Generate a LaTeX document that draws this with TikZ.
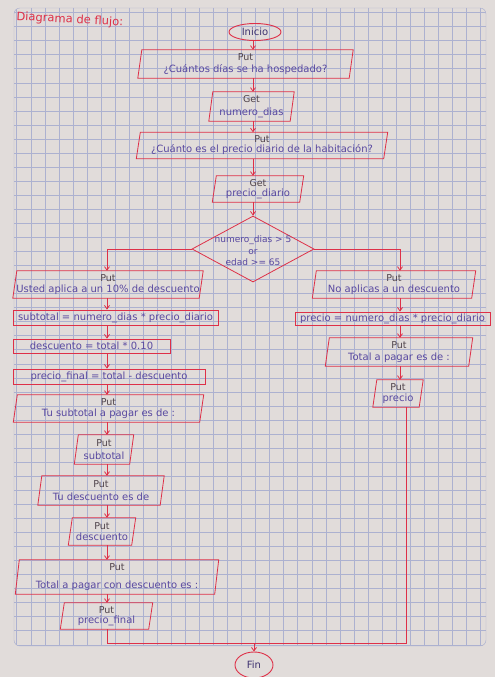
\documentclass[tikz,border=0pt]{standalone}
\usepackage{fontspec}
\setmainfont{DejaVu Sans}
\usetikzlibrary{shapes.geometric,arrows.meta,calc}
\definecolor{paper}{RGB}{225,220,218}
\definecolor{gridc}{RGB}{172,177,208}
\definecolor{inkred}{RGB}{222,48,72}
\definecolor{inkpur}{RGB}{88,72,160}
\definecolor{inkdark}{RGB}{80,68,76}
\newcommand\iob[7]{%
  \node[iobox, minimum width=#4, minimum height=#5] (#1) at (#2,#3) {\textcolor{inkdark}{\fontsize{9.5}{11}\selectfont #6}\\[\dimexpr #5pt-28pt\relax]#7};
  \draw[redline] ([xshift=2pt]#1.north west) -- ([xshift=2pt]#1.north east) -- ([xshift=-2pt]#1.south east) -- ([xshift=-2pt]#1.south west) -- cycle;
}
\begin{document}
\begin{tikzpicture}[x=1pt,y=-1pt,
  redline/.style={draw=inkred, line width=0.8pt},
  arr/.style={draw=inkred, line width=0.8pt, -{Straight Barb[length=3.5pt,width=5pt]}},
  iobox/.style={rectangle, inner xsep=1pt, inner ysep=1pt, align=center, text=inkpur, font=\fontsize{10}{12}\selectfont},
  procbox/.style={rectangle, draw=inkred, line width=0.8pt, inner sep=1pt, text=inkpur, font=\fontsize{10}{12}\selectfont},
  term/.style={ellipse, draw=inkred, line width=0.9pt, inner sep=0pt, text=inkpur!70!black, font=\fontsize{10}{12}\selectfont},
  gridl/.style={draw=gridc, line width=0.45pt}]
\fill[paper] (0,0) rectangle (495,677);
\useasboundingbox (0,0) rectangle (495,677);
\begin{scope}
\clip[rounded corners=6pt] (14,8) rectangle (486,646);
\foreach \i in {0,...,33} \draw[gridl] ({16.7+14.05*\i},8) -- ({16.7+14.05*\i},646);
\foreach \j in {0,...,45} \draw[gridl] (14,{12.5+14.05*\j}) -- (486,{12.5+14.05*\j});
\end{scope}
\draw[gridl,rounded corners=6pt] (14,8) rectangle (486,646);

\node[anchor=west, text=inkred, font=\fontsize{11.5}{14}\selectfont, rotate=-3] (title) at (13,17) {Diagrama de flujo:};

\coordinate (mc) at (253,0);
\coordinate (lc) at (107,0);
\coordinate (rc) at (400,0);

\node[term, minimum width=52, minimum height=17] (inicio) at (255,32) {Inicio};
\iob{b1}{245.5}{64}{211}{28}{Put}{¿Cuántos días se ha hospedado?}
\iob{b2}{251.5}{106.5}{81}{29}{Get}{numero\_dias}
\iob{b3}{262}{145.5}{247}{26}{Put}{¿Cuánto es el precio diario de la habitación?}
\iob{b4}{258}{189}{87}{26}{Get}{precio\_diario}
\node[diamond, draw=inkred, line width=0.8pt, minimum width=122, minimum height=66, inner sep=0pt] (dec) at (253,249) {};
\node[text=inkpur, align=center, font=\fontsize{9}{11.5}\selectfont] (dect) at (253,251) {numero\_dias > 5\\or\\edad >= 65};

\draw[arr] (inicio.south -| mc) -- (b1.north -| mc);
\draw[arr] (b1.south -| mc) -- (b2.north -| mc);
\draw[arr] (b2.south -| mc) -- (b3.north -| mc);
\draw[arr] (b3.south -| mc) -- (b4.north -| mc);
\draw[arr] (b4.south -| mc) -- (dec.north);

\iob{l1}{108}{284.5}{186}{27}{Put}{Usted aplica a un 10\% de descuento}
\node[procbox, minimum width=205, minimum height=15] (l2) at (115.5,317.5) {subtotal = numero\_dias * precio\_diario};
\node[procbox, minimum width=157, minimum height=14] (l3) at (91.5,346) {descuento = total * 0.10};
\node[procbox, minimum width=192, minimum height=15] (l4) at (109,376.5) {precio\_final = total - descuento};
\iob{l5}{108.5}{408.5}{186}{27}{Put}{Tu subtotal a pagar es de :}
\iob{l6}{104}{449.5}{55}{29}{Put}{subtotal}
\iob{l7}{101}{490.5}{122}{29}{Put}{Tu descuento es de}
\iob{l8}{102}{531.5}{63}{27}{Put}{descuento}
\iob{l9}{117}{577}{199}{34}{Put}{Total a pagar con descuento es :}
\iob{l10}{106.5}{616}{88}{26}{Put}{precio\_final}

\iob{r1}{394}{284.5}{159}{27}{Put}{No aplicas a un descuento}
\node[procbox, minimum width=195, minimum height=13] (r2) at (392.5,318.5) {precio = numero\_dias * precio\_diario};
\iob{r3}{399}{352}{143}{28}{Put}{Total a pagar es de :}
\iob{r4}{398}{393.5}{46}{27}{Put}{precio}

\draw[arr] (dec.west) -| (l1.north -| lc);
\draw[arr] (dec.east) -| (r1.north -| rc);

\draw[arr] (l1.south -| lc) -- (l2.north -| lc);
\draw[arr] (l2.south -| lc) -- (l3.north -| lc);
\draw[arr] (l3.south -| lc) -- (l4.north -| lc);
\draw[arr] (l4.south -| lc) -- (l5.north -| lc);
\draw[arr] (l5.south -| lc) -- (l6.north -| lc);
\draw[arr] (l6.south -| lc) -- (l7.north -| lc);
\draw[arr] (l7.south -| lc) -- (l8.north -| lc);
\draw[arr] (l8.south -| lc) -- (l9.north -| lc);
\draw[arr] (l9.south -| lc) -- (l10.north -| lc);

\draw[arr] (r1.south -| rc) -- (r2.north -| rc);
\draw[arr] (r2.south -| rc) -- (r3.north -| rc);
\draw[arr] (r3.south -| rc) -- (r4.north -| rc);

\node[term, minimum width=38, minimum height=26] (fin) at (254,665) {Fin};
\coordinate (mL) at (107,643);
\coordinate (mR) at (406,643);
\draw[redline] (l10.south -| mL) -- (mL) -- (mR) -- (r4.south -| mR);
\draw[arr] (fin.north |- mL) -- (fin.north);
\end{tikzpicture}
\end{document}
